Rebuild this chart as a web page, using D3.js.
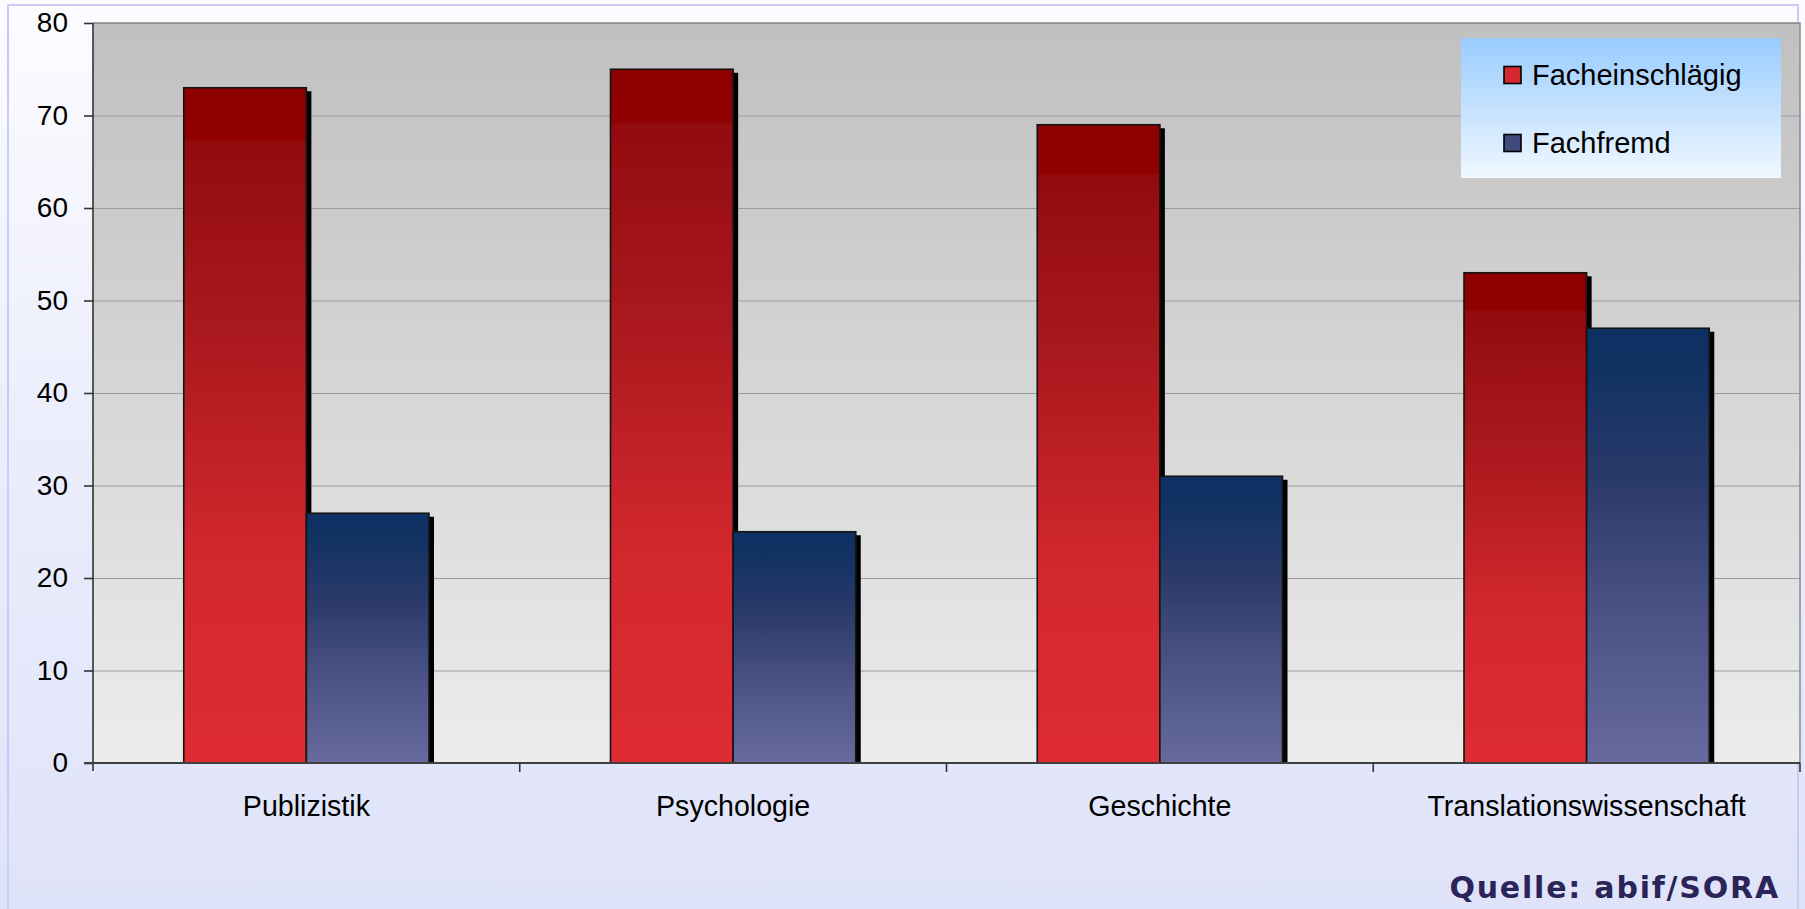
<!DOCTYPE html>
<html>
<head>
<meta charset="utf-8">
<script src="https://cdn.jsdelivr.net/npm/d3@7"></script>
<style>
  html, body { margin: 0; padding: 0; background: #ffffff; }
  svg { display: block; }
</style>
</head>
<body>
<script>
// Categories, series and values
const categories = ["Publizistik", "Psychologie", "Geschichte", "Translationswissenschaft"];
const seriesNames = ["Facheinschlägig", "Fachfremd"];
const facheinschlaegig = [73, 75, 69, 53];
const fachfremd = [27, 25, 31, 47];
const yTicks = [0, 10, 20, 30, 40, 50, 60, 70, 80];
const sourceNote = "Quelle: abif/SORA";

const W = 1805, H = 909;
const plot = { left: 93, right: 1800, top: 23, bottom: 763 };

const svg = d3.select("body").append("svg")
  .attr("width", W).attr("height", H);
const defs = svg.append("defs");

function vGrad(id, stops) {
  const g = defs.append("linearGradient").attr("id", id)
    .attr("x1", 0).attr("y1", 0).attr("x2", 0).attr("y2", 1);
  stops.forEach(([o, c]) => g.append("stop").attr("offset", o).attr("stop-color", c));
}
vGrad("pageBg", [[0, "#fcfcff"], [0.45, "#eceefc"], [1, "#dfe3f9"]]);
vGrad("plotBg", [[0, "#c0c0c0"], [1, "#ececec"]]);
vGrad("redBar", [[0, "#8e0000"], [0.075, "#900000"], [0.08, "#930b0e"], [0.35, "#a8181d"], [0.7, "#d2282e"], [1, "#de2c33"]]);
vGrad("blueBar", [[0, "#0d3162"], [0.08, "#0f3263"], [0.35, "#2a3a6a"], [0.65, "#4a5284"], [1, "#676a9c"]]);
vGrad("legendBg", [[0, "#99ccff"], [1, "#f0f8ff"]]);

defs.append("clipPath").attr("id", "plotClip").append("rect")
  .attr("x", plot.left).attr("y", plot.top)
  .attr("width", plot.right - plot.left).attr("height", plot.bottom - plot.top);

// Page background and frame
svg.append("rect").attr("width", W).attr("height", H).attr("fill", "url(#pageBg)");
svg.append("rect").attr("x", 8).attr("y", 5).attr("width", 1790).attr("height", 1000)
  .attr("fill", "none").attr("stroke", "#c8cbf6").attr("stroke-width", 2);

// Scales
const y = d3.scaleLinear().domain([0, 80]).range([plot.bottom, plot.top]);
const x0 = d3.scaleBand().domain(categories).range([plot.left, plot.right]).paddingInner(0).paddingOuter(0);
const x1 = d3.scaleBand().domain(seriesNames).range([0, x0.bandwidth()]).paddingInner(0).paddingOuter(0.74);

// Plot area
svg.append("rect").attr("x", plot.left).attr("y", plot.top)
  .attr("width", plot.right - plot.left).attr("height", plot.bottom - plot.top)
  .attr("fill", "url(#plotBg)");

// Gridlines
svg.append("g").attr("transform", `translate(${plot.left},0)`)
  .call(d3.axisLeft(y).tickValues(yTicks.filter(v => v > 0)).tickSize(-(plot.right - plot.left)).tickFormat(""))
  .call(g => g.select(".domain").remove())
  .call(g => g.selectAll("line").attr("stroke", "#9c9c9c").attr("stroke-width", 1.2));

// Plot border (top/right)
svg.append("path")
  .attr("d", `M${plot.left},${plot.top}H${plot.right}V${plot.bottom}`)
  .attr("fill", "none").attr("stroke", "#8a8a8a").attr("stroke-width", 1.5);

// Bars
const rows = categories.map((c, i) => ({
  cat: c,
  vals: [
    { s: seriesNames[0], v: facheinschlaegig[i], fill: "url(#redBar)" },
    { s: seriesNames[1], v: fachfremd[i], fill: "url(#blueBar)" }
  ]
}));

const barLayer = svg.append("g").attr("clip-path", "url(#plotClip)");
rows.forEach(r => {
  const g = barLayer.append("g").attr("transform", `translate(${x0(r.cat)},0)`);
  r.vals.forEach(d => {
    g.append("rect")
      .attr("x", x1(d.s) + 5).attr("y", y(d.v) + 3.5)
      .attr("width", x1.bandwidth()).attr("height", y(0) - y(d.v))
      .attr("fill", "#000");
    g.append("rect")
      .attr("x", x1(d.s)).attr("y", y(d.v))
      .attr("width", x1.bandwidth()).attr("height", y(0) - y(d.v))
      .attr("fill", d.fill)
      .attr("stroke", "#151515").attr("stroke-width", 1.6);
  });
});

// Y axis
const yAxis = svg.append("g").attr("transform", `translate(${plot.left},0)`)
  .call(d3.axisLeft(y).tickValues(yTicks).tickSize(9).tickPadding(16));
yAxis.select(".domain").attr("d", `M0,${plot.top}V${plot.bottom + 8}`)
  .attr("stroke", "#333").attr("stroke-width", 1.6);
yAxis.selectAll(".tick line").attr("stroke", "#333").attr("stroke-width", 1.6);
yAxis.selectAll(".tick text")
  .attr("font-family", "'Liberation Sans', Arial, sans-serif")
  .attr("font-size", 28).attr("fill", "#000");

// X axis baseline and category ticks
svg.append("line")
  .attr("x1", plot.left - 9).attr("x2", plot.right)
  .attr("y1", plot.bottom).attr("y2", plot.bottom)
  .attr("stroke", "#404040").attr("stroke-width", 2);
const boundaries = categories.map(c => x0(c)).concat([plot.right]);
svg.append("g").selectAll("line").data(boundaries.slice(1)).join("line")
  .attr("x1", d => d).attr("x2", d => d)
  .attr("y1", plot.bottom).attr("y2", plot.bottom + 9)
  .attr("stroke", "#333").attr("stroke-width", 1.6);

svg.append("g").selectAll("text").data(categories).join("text")
  .attr("x", d => x0(d) + x0.bandwidth() / 2)
  .attr("y", 816)
  .attr("text-anchor", "middle")
  .attr("font-family", "'Liberation Sans', Arial, sans-serif")
  .attr("font-size", 28.6).attr("fill", "#000")
  .text(d => d);

// Legend
const legend = svg.append("g");
legend.append("rect").attr("x", 1461).attr("y", 38).attr("width", 320).attr("height", 140)
  .attr("fill", "url(#legendBg)");
const legendFills = ["#d6282f", "#404a7c"];
seriesNames.forEach((s, i) => {
  const cy = 75 + i * 68;
  legend.append("rect").attr("x", 1504).attr("y", cy - 8.5).attr("width", 17).attr("height", 17)
    .attr("fill", legendFills[i]).attr("stroke", "#000").attr("stroke-width", 1.6);
  legend.append("text").attr("x", 1532).attr("y", cy).attr("dy", "0.36em")
    .attr("font-family", "'Liberation Sans', Arial, sans-serif")
    .attr("font-size", 29).attr("fill", "#000")
    .text(s);
});

// Source note
svg.append("text")
  .attr("x", 1780).attr("y", 898)
  .attr("text-anchor", "end")
  .attr("font-family", "'DejaVu Sans', Verdana, sans-serif")
  .attr("font-weight", "bold")
  .attr("font-size", 30)
  .attr("letter-spacing", 1.8)
  .attr("fill", "#2b2458")
  .text(sourceNote);
</script>
</body>
</html>
